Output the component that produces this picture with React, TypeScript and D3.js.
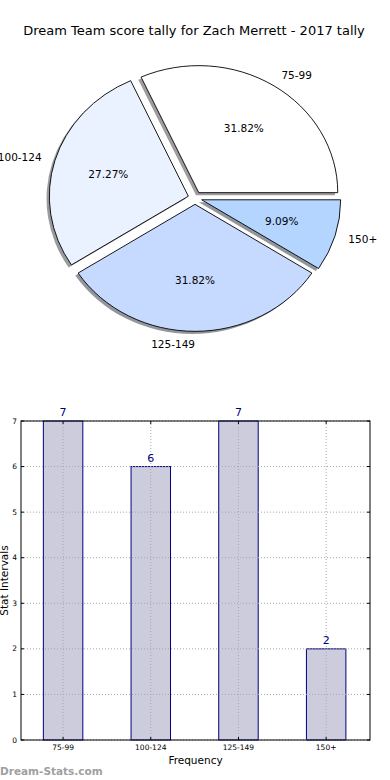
import * as d3 from "d3";

const categories = ["75-99", "100-124", "125-149", "150+"];
const counts = [7, 6, 7, 2];
const sliceColors = ["#ffffff", "#eaf1ff", "#c6d9ff", "#b3d5ff"];
const yTicks = [0, 1, 2, 3, 4, 5, 6, 7];

const W = 390;
const H = 780;
const FONT = "DejaVu Sans, sans-serif";

// pie geometry (matplotlib-style: starts at 3 o'clock, runs counter-clockwise)
const cx = 195;
const cy = 198;
const rx = 139;
const ry = 127;
const explode = 0.05;

function darken(c: string) {
  const col = d3.rgb(c);
  return d3.rgb(col.r * 0.3, col.g * 0.3, col.b * 0.3).toString();
}

function Pie() {
  const total = d3.sum(counts);
  const slices = d3.pie<number>().sort(null).startAngle(0).endAngle(2 * Math.PI)(counts);
  const arc = d3.arc<any>().innerRadius(0).outerRadius(1);

  const items = slices.map((s, i) => {
    // s.startAngle/endAngle read as mpl angles (ccw from east)
    const mid = (s.startAngle + s.endAngle) / 2;
    const ox = explode * rx * Math.cos(mid);
    const oy = -explode * ry * Math.sin(mid);
    const d = arc({ startAngle: Math.PI / 2 - s.endAngle, endAngle: Math.PI / 2 - s.startAngle })!;
    const lx = cx + ox + 1.1 * rx * Math.cos(mid);
    const ly = cy + oy - 1.1 * ry * Math.sin(mid);
    const px = cx + ox + 0.6 * rx * Math.cos(mid);
    const py = cy + oy - 0.6 * ry * Math.sin(mid);
    return { i, d, ox, oy, lx, ly, px, py, anchor: Math.cos(mid) > 0 ? "start" : "end", pct: ((counts[i] / total) * 100).toFixed(2) + "%" };
  });

  return (
    <g>
      {items.map((it) => (
        <path key={"sh" + it.i} d={it.d}
          transform={`translate(${cx + it.ox - 0.02 * rx},${cy + it.oy + 0.02 * ry}) scale(${rx},${ry})`}
          fill={darken(sliceColors[it.i])} fillOpacity={0.55} stroke="none" />
      ))}
      {items.map((it) => (
        <path key={"w" + it.i} d={it.d}
          transform={`translate(${cx + it.ox},${cy + it.oy}) scale(${rx},${ry})`}
          fill={sliceColors[it.i]} stroke="#000" strokeWidth={0.9} vectorEffect="non-scaling-stroke" />
      ))}
      {items.map((it) => (
        <text key={"l" + it.i} x={it.lx} y={it.ly} dy="0.35em" textAnchor={it.anchor} fontSize={10.5} fill="#000">
          {categories[it.i]}
        </text>
      ))}
      {items.map((it) => (
        <text key={"p" + it.i} x={it.px} y={it.py} dy="0.35em" textAnchor="middle" fontSize={10.5} fill="#000">
          {it.pct}
        </text>
      ))}
    </g>
  );
}

function Bars() {
  const left = 21, right = 370, top = 421, bottom = 740;
  const x = d3.scaleLinear().domain([-0.48, 3.5]).range([left, right]);
  const y = d3.scaleLinear().domain([0, 7]).range([bottom, top]);
  const bw = 0.45;
  const gridStyle = { stroke: "#a8a8a8", strokeWidth: 1, strokeDasharray: "1,2" };

  return (
    <g>
      {counts.map((v, i) => (
        <rect key={"b" + i} x={x(i - bw / 2)} y={y(v)} width={x(bw) - x(0)} height={y(0) - y(v)}
          fill="#ccccdd" stroke="#000080" strokeWidth={1} />
      ))}
      {yTicks.map((t) => (
        <line key={"gy" + t} x1={left} x2={right} y1={y(t)} y2={y(t)} style={gridStyle} />
      ))}
      {categories.map((c, i) => (
        <line key={"gx" + i} x1={x(i)} x2={x(i)} y1={top} y2={bottom} style={gridStyle} />
      ))}
      <rect x={left} y={top} width={right - left} height={bottom - top} fill="none" stroke="#000" strokeWidth={1} />
      {yTicks.map((t) => (
        <g key={"ty" + t}>
          <line x1={left} x2={left + 3} y1={y(t)} y2={y(t)} stroke="#000" />
          <line x1={right} x2={right - 3} y1={y(t)} y2={y(t)} stroke="#000" />
          <text x={left - 4} y={y(t)} dy="0.35em" textAnchor="end" fontSize={7.5} fill="#000">{t}</text>
        </g>
      ))}
      {categories.map((c, i) => (
        <g key={"tx" + i}>
          <line x1={x(i)} x2={x(i)} y1={bottom} y2={bottom - 3} stroke="#000" />
          <line x1={x(i)} x2={x(i)} y1={top} y2={top + 3} stroke="#000" />
          <text x={x(i)} y={bottom + 10} textAnchor="middle" fontSize={7.5} fill="#000">{c}</text>
        </g>
      ))}
      {counts.map((v, i) => (
        <text key={"v" + i} x={x(i)} y={y(v) - 5} textAnchor="middle" fontSize={11} fill="#000080">{v}</text>
      ))}
      <text x={(left + right) / 2} y={764} textAnchor="middle" fontSize={10.5} fill="#000">Frequency</text>
      <text transform={`translate(8,${(top + bottom) / 2}) rotate(-90)`} textAnchor="middle" fontSize={10.5} fill="#000">
        Stat Intervals
      </text>
    </g>
  );
}

export default function App() {
  return (
    <svg width={W} height={H} fontFamily={FONT}
      style={{ position: "absolute", left: 0, top: 0, background: "#fff" }}>
      <rect width={W} height={H} fill="#fff" />
      <text x={194} y={35} textAnchor="middle" fontSize={13} fill="#000">
        Dream Team score tally for Zach Merrett - 2017 tally
      </text>
      <Pie />
      <Bars />
      <text x={0} y={775} fontSize={10.5} fontWeight="bold" fill="#a0a0a0">Dream-Stats.com</text>
    </svg>
  );
}
